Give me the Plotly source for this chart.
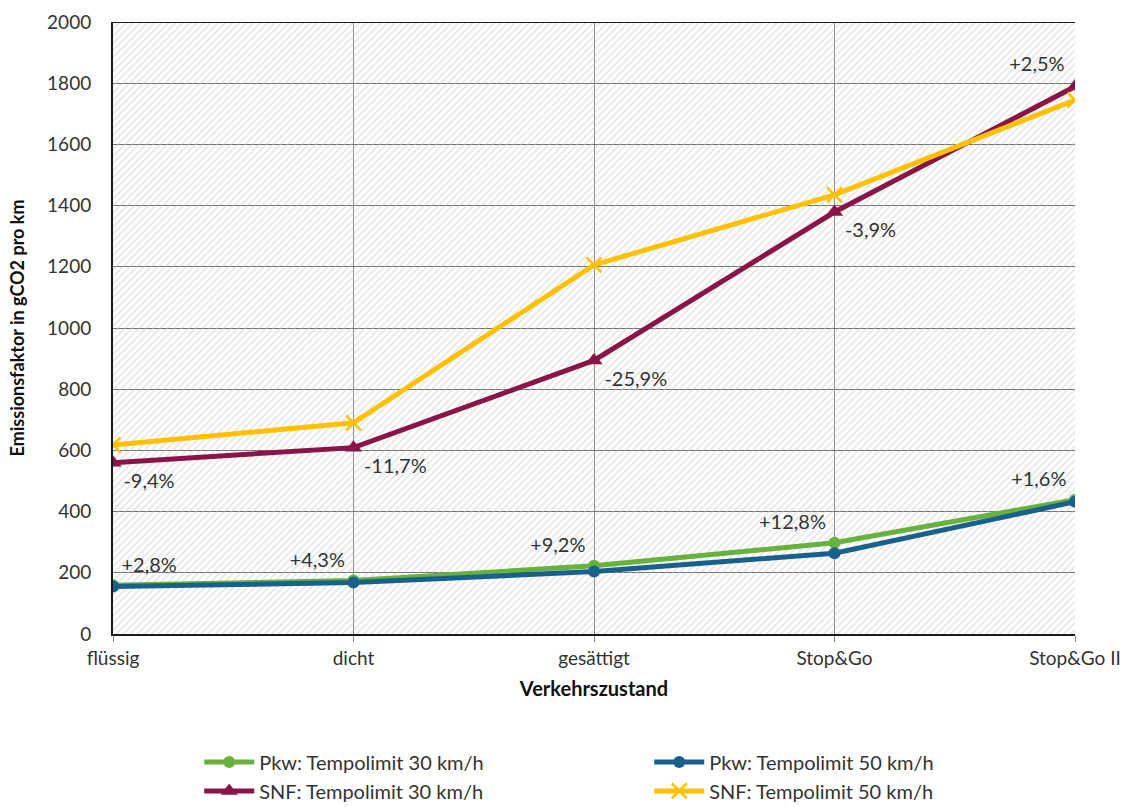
import plotly.graph_objects as go

# Verkehrszustände (x-axis categories)
zustand = ["flüssig", "dicht", "gesättigt", "Stop&Go", "Stop&Go II"]

# CO2 emission factors in g per km
pkw_30 = [159, 175, 223, 298, 439]
pkw_50 = [155, 168, 204, 264, 432]
snf_30 = [560, 609, 894, 1379, 1789]
snf_50 = [618, 690, 1206, 1435, 1745]

# Relative change 30 km/h vs. 50 km/h
pkw_diff = ["+2,8%", "+4,3%", "+9,2%", "+12,8%", "+1,6%"]
snf_diff = ["-9,4%", "-11,7%", "-25,9%", "-3,9%", "+2,5%"]

y_ticks = [0, 200, 400, 600, 800, 1000, 1200, 1400, 1600, 1800, 2000]

FONT = "Lato, 'Open Sans', sans-serif"
TXT = "#333333"

fig = go.Figure()

# hatched plot background
fig.add_trace(go.Scatter(
    x=[zustand[0], zustand[-1], zustand[-1], zustand[0], zustand[0]],
    y=[y_ticks[0], y_ticks[0], y_ticks[-1], y_ticks[-1], y_ticks[0]],
    mode="none", fill="toself", fillcolor="rgba(0,0,0,0)",
    fillpattern=dict(shape="/", fgcolor="#c8c8c8", bgcolor="rgba(0,0,0,0)",
                     size=5, solidity=0.3),
    hoverinfo="skip", showlegend=False,
))

fig.add_trace(go.Scatter(
    x=zustand, y=pkw_30, name="Pkw: Tempolimit 30 km/h",
    mode="lines+markers+text", text=pkw_diff,
    textposition=["top right", "top left", "top left", "top left", "top left"],
    textfont=dict(size=20, color=TXT, family=FONT),
    line=dict(color="#66b23c", width=5),
    marker=dict(symbol="circle", size=12, color="#66b23c"),
))
fig.add_trace(go.Scatter(
    x=zustand, y=pkw_50, name="Pkw: Tempolimit 50 km/h",
    mode="lines+markers",
    line=dict(color="#19618c", width=5),
    marker=dict(symbol="circle", size=12, color="#19618c"),
))
fig.add_trace(go.Scatter(
    x=zustand, y=snf_30, name="SNF: Tempolimit 30 km/h",
    mode="lines+markers+text", text=snf_diff,
    textposition=["bottom right", "bottom right", "bottom right", "bottom right", "top left"],
    textfont=dict(size=20, color=TXT, family=FONT),
    line=dict(color="#8a1447", width=5),
    marker=dict(symbol="triangle-up", size=15, color="#8a1447"),
))
fig.add_trace(go.Scatter(
    x=zustand, y=snf_50, name="SNF: Tempolimit 50 km/h",
    mode="lines+markers",
    line=dict(color="#ffc000", width=5),
    marker=dict(symbol="x-thin", size=15, color="#ffc000",
                line=dict(width=2.5, color="#ffc000")),
))

fig.update_layout(
    width=1132, height=807,
    margin=dict(l=113, r=57, t=22, b=173, autoexpand=False),
    paper_bgcolor="white", plot_bgcolor="white",
    font=dict(family=FONT, size=19, color=TXT),
    xaxis=dict(
        type="category", categoryorder="array", categoryarray=zustand,
        range=[0, len(zustand) - 1],
        showgrid=True, gridcolor="#8a8a8a", gridwidth=1,
        showline=True, linecolor="#1a1a1a", linewidth=2, mirror=False,
        ticks="outside", ticklen=6, tickcolor="#8a8a8a",
        tickfont=dict(size=19, color=TXT),
        title=dict(text="<b>Verkehrszustand</b>", font=dict(size=20, color="#111111"),
                   standoff=14),
        zeroline=False, automargin=False,
    ),
    yaxis=dict(
        range=[y_ticks[0], y_ticks[-1]], tickvals=y_ticks,
        showgrid=True, gridcolor="#6e6e6e", gridwidth=1.3,
        showline=True, linecolor="#1a1a1a", linewidth=2, mirror=False,
        ticks="", ticklabelstandoff=16,
        tickfont=dict(size=19, color=TXT),
        title=dict(text="<b>Emissionsfaktor in gCO2 pro km</b>",
                   font=dict(size=18, color="#111111"), standoff=18),
        zeroline=False, automargin=False,
    ),
    legend=dict(
        orientation="h", xref="container", x=0.176, xanchor="left",
        yref="container", y=0.08, yanchor="top",
        entrywidth=385, entrywidthmode="pixels",
        font=dict(size=20, color=TXT), itemwidth=50,
        tracegroupgap=0,
    ),
    showlegend=True,
)

# top border
fig.add_shape(type="line", xref="paper", yref="y", x0=0, x1=1, y0=y_ticks[-1], y1=y_ticks[-1],
              line=dict(color="#1a1a1a", width=2))

fig.write_html("out.html")
